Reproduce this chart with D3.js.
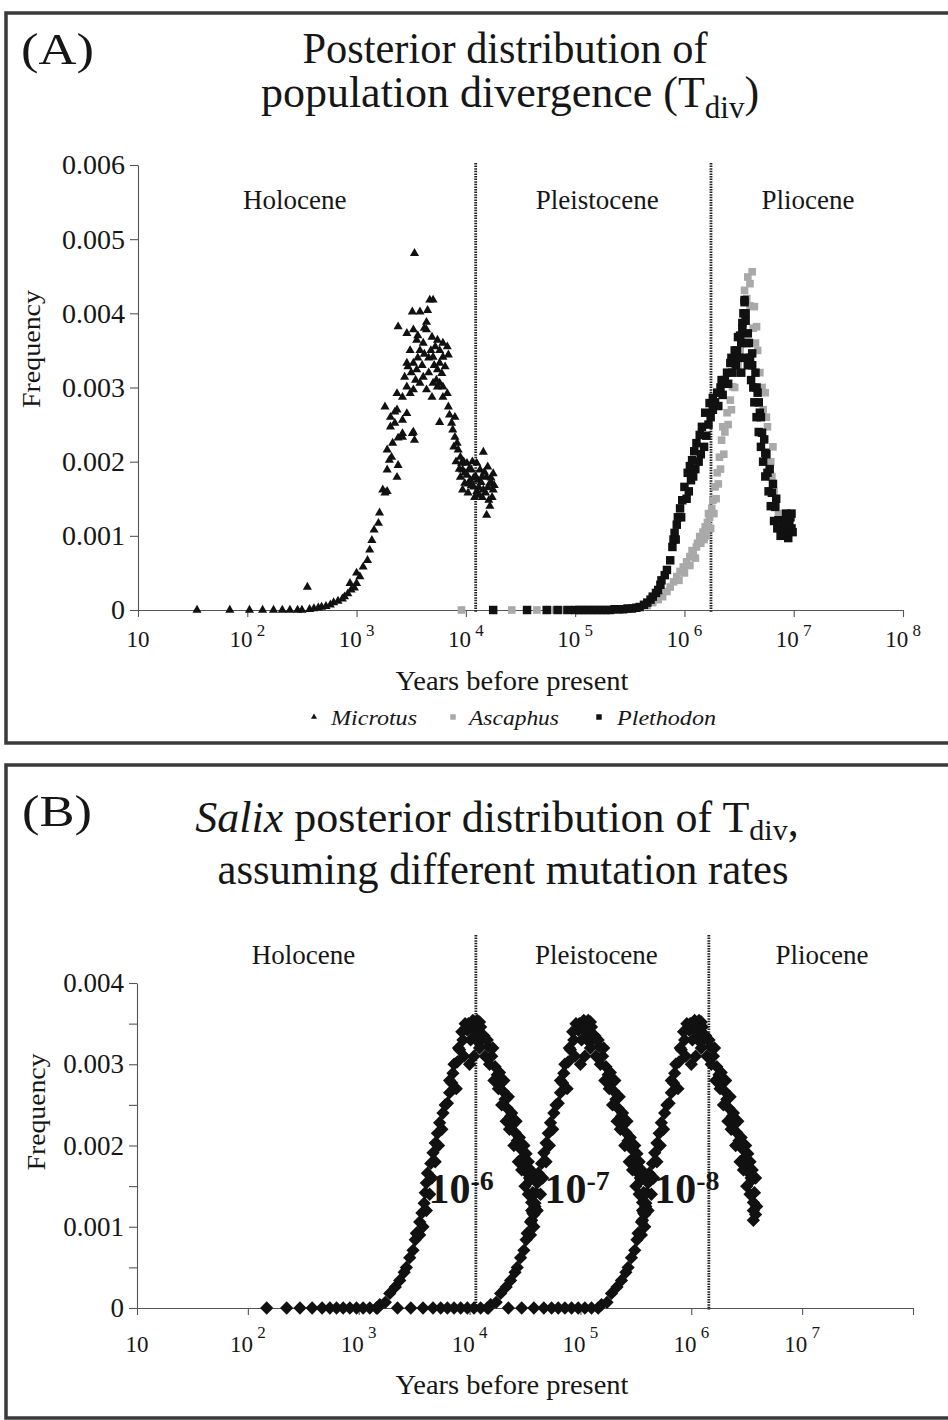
<!DOCTYPE html>
<html><head><meta charset="utf-8">
<script src="https://cdn.jsdelivr.net/npm/d3@7"></script>
<style>
body{margin:0;background:#fff}
svg{display:block}
text{font-family:"Liberation Serif","Times New Roman",serif;fill:#161616}
</style>
</head><body>
<svg id="c" width="948" height="1420"></svg>
<script>
// ---------------- DATA ----------------
// points are [log10(years before present), frequency]
const microtusPts = [[1.54,0],[1.84,0],[2.02,0],[2.14,0],[2.24,0],[2.32,0],[2.39,0],[2.46,0],[2.50,0],[2.55,0.00031],
[2.57,0.00001],[2.61,0.00002],[2.65,0.00003],[2.68,0.00004],[2.72,0.00005],[2.76,0.00007],[2.79,0.0001],[2.83,0.00012],[2.87,0.00015],[2.89,0.00018],[2.92,0.00022],[2.94,0.00036],[2.95,0.00027],[2.98,0.0003],[3.00,0.00036],[3.00,0.0005],[3.03,0.00045],[3.06,0.00058],[3.10,0.00067],[3.12,0.00081],[3.14,0.00094],[3.16,0.00108],[3.20,0.00117],[3.21,0.00131],[3.26,0.00158],[3.24,0.00162],[3.28,0.0016],[3.28,0.00189],[3.30,0.00202],[3.37,0.00179],[3.38,0.00195],[3.28,0.00216],[3.32,0.00206],[3.33,0.00225],[3.38,0.00232],[3.42,0.00233],[3.52,0.0024],[3.53,0.00229],[3.35,0.00252],[3.42,0.00256],[3.37,0.0027],[3.46,0.00265],[3.26,0.00274],[3.31,0.00247],[3.42,0.00287],[3.49,0.00292],[3.52,0.00297],[3.46,0.00301],[3.44,0.00314],[3.47,0.00328],[3.46,0.00333],[3.52,0.00333],[3.55,0.00324],[3.58,0.00306],[3.61,0.00314],[3.64,0.00297],[3.69,0.00287],[3.70,0.00306],[3.38,0.00382],[3.46,0.00373],[3.52,0.00378],[3.51,0.00402],[3.58,0.00402],[3.55,0.00364],[3.58,0.0035],[3.61,0.0036],[3.64,0.00378],[3.64,0.00388],[3.67,0.00418],[3.70,0.00418],[3.65,0.00404],[3.69,0.00368],[3.72,0.00355],[3.74,0.00364],[3.76,0.0035],[3.79,0.0036],[3.83,0.00355],[3.70,0.00341],[3.76,0.00333],[3.79,0.00341],[3.84,0.00344],[3.74,0.00324],[3.78,0.00319],[3.81,0.00328],[3.76,0.00306],[3.79,0.00301],[3.74,0.00301],[3.79,0.00287],[3.83,0.00292],[3.76,0.00253],[3.84,0.00274],[3.85,0.00263],[3.87,0.00252],[3.88,0.00243],[3.90,0.00233],[3.92,0.00225],[3.93,0.00216],[3.95,0.00206],[3.96,0.00198],[3.97,0.00189],[4.01,0.00182],[3.99,0.00171],[4.04,0.00175],[3.95,0.00179],[3.97,0.00162],[4.02,0.00158],[4.07,0.00166],[4.10,0.00198],[4.13,0.00189],[4.16,0.00213],[4.11,0.00175],[4.16,0.00162],[4.19,0.00179],[4.20,0.00193],[4.22,0.00171],[4.24,0.00152],[4.25,0.00184],[4.25,0.00162],[4.19,0.00128],[4.15,0.00152],[4.08,0.00152],[4.05,0.00189],[4.01,0.00198],[3.90,0.0026],[3.53,0.00481],[3.37,0.00292],[3.42,0.00238],[3.51,0.00238],[3.35,0.00267],[3.31,0.0026],
[4.05,0.00168],[4.09,0.0018],[4.12,0.00165],[4.14,0.00172],[4.18,0.00158],[4.21,0.00148],[4.23,0.00178],[4.17,0.00186],[4.07,0.00178],[4.02,0.0017],[3.99,0.00185],[4.12,0.00155],[4.26,0.00168],[4.22,0.0014],[4.10,0.0016],
[3.56,0.0034],[3.60,0.0033],[3.62,0.00345],[3.66,0.0034],[3.68,0.0035],[3.66,0.0032],[3.71,0.0033],[3.73,0.0031],[3.62,0.0038],[3.56,0.0037],[3.49,0.0035],[3.54,0.0031],[3.50,0.0032],
[3.89,0.0022],[3.91,0.0020],[3.94,0.0019],[3.98,0.0020],[4.03,0.0019],[4.06,0.0020],[4.15,0.0018],[4.20,0.00165],[4.24,0.0017]];

const ascaphusPts = [[3.96,0],[4.42,0],[4.65,0],[4.79,0],[4.90,0],[5.02,0],[5.14,0],[5.26,0],[5.38,0.00001],[5.50,0.00002],[5.60,0.00004],[5.66,0.00006],[5.71,0.0001],[5.76,0.00014],[5.80,0.00018],[5.84,0.00025],[5.87,0.00031],[5.90,0.00038],[5.93,0.00045],[5.96,0.00052],[5.99,0.00058],[6.02,0.00065],[6.05,0.00072],[6.08,0.00078],[6.11,0.00085],[6.14,0.00099],[6.17,0.00105],[6.19,0.00112],[6.21,0.00118],[6.23,0.00125],[6.25,0.00137],[6.26,0.00148],[6.28,0.00166],[6.30,0.00185],[6.32,0.00206],[6.34,0.00229],[6.35,0.00247],[6.39,0.00266],[6.42,0.00283],[6.44,0.00301],[6.48,0.0032],[6.51,0.0035],[6.53,0.00373],[6.54,0.004],[6.55,0.00431],[6.58,0.00449],[6.62,0.00456],[6.60,0.0044],[6.64,0.00409],[6.66,0.00382],[6.67,0.0035],[6.69,0.0032],[6.74,0.00293],[6.76,0.00247],[6.81,0.0022],[6.79,0.002],[6.80,0.0018],[6.82,0.0016],[6.84,0.0014],[6.86,0.0013],[6.90,0.0012],[6.94,0.0011],
[6.05,0.0006],[6.10,0.0007],[6.15,0.0009],[6.20,0.001],[6.24,0.0011],[6.22,0.0013],[6.27,0.0013],[6.29,0.0015],[6.31,0.0017],[6.33,0.0019],[6.36,0.0021],[6.37,0.0024],[6.40,0.0025],[6.43,0.0027],[6.46,0.003],[6.49,0.0033],[6.52,0.0036],[6.57,0.0042],[6.60,0.0041],[6.63,0.0038],[6.65,0.0036],[6.71,0.003],[6.72,0.0027],[6.75,0.0026],
[5.95,0.0004],[6.00,0.0005],[6.07,0.0008],[6.12,0.0009],[6.18,0.00095]];

const plethodonPts = [[4.25,0],[4.56,0],[4.74,0],[4.84,0],[4.93,0],[5.00,0],[5.04,0],[5.08,0],[5.12,0],[5.16,0],[5.20,0],[5.24,0],[5.28,0],[5.32,0],[5.36,0.00001],[5.40,0.00001],[5.44,0.00001],[5.48,0.00002],[5.52,0.00002],[5.56,0.00003],[5.59,0.00004],[5.63,0.00007],[5.66,0.0001],[5.69,0.00014],[5.71,0.00018],[5.74,0.00023],[5.76,0.00027],[5.78,0.00034],[5.79,0.0004],[5.82,0.00047],[5.84,0.00054],[5.87,0.00067],[5.89,0.00085],[5.90,0.00095],[5.91,0.00104],[5.93,0.00115],[5.94,0.00125],[5.96,0.00137],[5.98,0.00148],[6.00,0.00166],[6.03,0.00185],[6.05,0.00194],[6.07,0.00202],[6.09,0.00214],[6.11,0.00225],[6.14,0.00236],[6.16,0.00247],[6.19,0.00266],[6.23,0.00279],[6.26,0.00286],[6.30,0.00293],[6.34,0.0031],[6.39,0.0032],[6.42,0.00333],[6.46,0.0035],[6.49,0.00368],[6.53,0.00387],[6.55,0.00418],[6.54,0.004],[6.58,0.00373],[6.62,0.00346],[6.65,0.0032],[6.67,0.00293],[6.69,0.00266],[6.71,0.00239],[6.74,0.00212],[6.76,0.00185],[6.80,0.00158],[6.83,0.00139],[6.86,0.00121],[6.90,0.00108],[6.94,0.00104],[6.95,0.00097],[6.98,0.0011],
[5.92,0.00095],[5.97,0.00125],[6.02,0.0015],[6.06,0.00175],[6.10,0.0019],[6.15,0.0021],[6.20,0.00235],[6.22,0.0025],[6.26,0.0027],[6.31,0.00275],[6.35,0.0029],[6.40,0.00305],[6.44,0.0032],[6.47,0.0033],[6.50,0.0034],[6.52,0.0036],[6.56,0.0039],[6.57,0.0036],[6.55,0.0034],[6.52,0.0032],[6.60,0.0034],[6.61,0.0031],[6.58,0.0033],[6.63,0.003],[6.64,0.0028],[6.66,0.0026],[6.68,0.0024],[6.70,0.0022],[6.72,0.002],[6.74,0.0018],[6.77,0.0016],[6.79,0.0014],[6.82,0.0012],[6.85,0.0011],[6.88,0.001],[6.92,0.0012],[6.96,0.0012],[6.97,0.00125],[6.93,0.0013],[6.99,0.00105],[6.55,0.00415],[6.56,0.004],[6.53,0.0038],
[6.04,0.0016],[6.08,0.0018],[6.13,0.0020],[6.18,0.0022],[6.24,0.0026],[6.28,0.0028],[6.33,0.0030],[6.37,0.0031],[6.43,0.0034],[6.48,0.0035],[6.51,0.0037],[6.59,0.0036],[6.62,0.0033],[6.66,0.0030],[6.68,0.0028],[6.70,0.0026],[6.73,0.0023],[6.75,0.0021],[6.78,0.0019],[6.81,0.0017],[6.84,0.0015],[6.91,0.0011],[6.95,0.00115],[6.98,0.0013]];

// Salix: posterior of Tdiv expressed in years at a mutation rate of 1e-6
const salixPtsAtMu6 = [[2.17,0],[2.35,0],[2.47,0],[2.58,0],[2.67,0],[2.74,0],[2.80,0],[2.86,0],[2.92,0],[2.98,0],[3.04,0],[3.10,0],[3.16,0],
[3.19,0.00004],[3.24,0.00007],[3.28,0.00018],[3.33,0.00026],[3.37,0.00034],[3.41,0.00044],[3.43,0.0005],[3.46,0.00062],[3.49,0.00071],[3.51,0.00084],[3.52,0.00092],[3.55,0.00106],[3.57,0.00117],[3.59,0.00129],[3.60,0.00142],[3.61,0.00154],[3.62,0.00166],[3.65,0.00178],[3.67,0.00191],[3.69,0.00203],[3.71,0.00215],[3.73,0.00228],[3.76,0.0024],[3.80,0.00252],[3.82,0.00265],[3.84,0.00277],[3.85,0.00289],[3.89,0.00303],[3.91,0.00318],[3.94,0.0033],[3.98,0.00342],[4.00,0.00348],[4.03,0.00354],[4.07,0.00354],[4.09,0.00352],
[4.10,0.00346],[4.13,0.00335],[4.17,0.00322],[4.20,0.0031],[4.23,0.00297],[4.25,0.00287],[4.28,0.00277],[4.30,0.00267],[4.32,0.00257],[4.34,0.00246],[4.37,0.00236],[4.39,0.00226],[4.41,0.00216],[4.43,0.00206],[4.46,0.00196],[4.48,0.00185],[4.50,0.00175],[4.52,0.00166],[4.55,0.00158],[4.57,0.00142],[4.59,0.00125],[4.56,0.00108],[4.58,0.00115],
[3.55,0.0009],[3.58,0.001],[3.61,0.0012],[3.64,0.0014],[3.66,0.0016],[3.69,0.0018],[3.72,0.002],[3.75,0.0022],[3.78,0.0025],[3.82,0.0028],[3.86,0.003],[3.90,0.0032],[3.93,0.0034],[3.96,0.0035],[4.01,0.0033],[4.04,0.0031],[4.06,0.0033],[4.08,0.0034],[4.11,0.0033],[4.14,0.0031],[4.18,0.003],[4.22,0.0028],[4.26,0.0027],[4.29,0.0025],[4.33,0.0023],[4.36,0.0022],[4.40,0.002],[4.44,0.0018],[4.47,0.0017],[4.50,0.0015],[4.53,0.0014],[4.56,0.0013],[4.58,0.0016],[4.55,0.0017],[4.53,0.0018],[4.56,0.0012],[4.51,0.0019],[3.88,0.0027],[3.95,0.0031],[4.00,0.003],[3.99,0.0035],[4.02,0.0035],[4.05,0.0034],[4.09,0.0032],
[4.16,0.0033],[4.21,0.0032],[4.27,0.0029],[4.31,0.0028],[4.35,0.0026],[4.38,0.0024],[4.42,0.0023],[4.45,0.0021],[4.49,0.0020],[4.54,0.0016]];
const mutationRates = [1e-6, 1e-7, 1e-8];
const rateExponents = ["-6", "-7", "-8"];

const epochNames = ["Holocene", "Pleistocene", "Pliocene"];
const epochBoundsA = [12300, 1750000];
const epochBoundsB = [11400, 1440000];
const yTicksA = [0, 0.001, 0.002, 0.003, 0.004, 0.005, 0.006];
const yTicksB = [0, 0.001, 0.002, 0.003, 0.004];
const yMinorB = [0.0005, 0.0015, 0.0025, 0.0035];
const xTickExpA = [1, 2, 3, 4, 5, 6, 7, 8];
const xTickExpB = [1, 2, 3, 4, 5, 6, 7, 8];
const xLabelExpB = [1, 2, 3, 4, 5, 6, 7];
const legendNames = ["Microtus", "Ascaphus", "Plethodon"];

// ---------------- DRAWING ----------------
const svg = d3.select("#c");
const INK = "#161616";
const toYears = L => Math.pow(10, L);

// panel frames
svg.append("rect").attr("x", 6).attr("y", 13).attr("width", 990).attr("height", 730)
  .attr("fill", "none").attr("stroke", "#3a3a3a").attr("stroke-width", 3.5);
svg.append("rect").attr("x", 6).attr("y", 765).attr("width", 990).attr("height", 653)
  .attr("fill", "none").attr("stroke", "#3a3a3a").attr("stroke-width", 3.5);

function styleAxis(g) {
  g.selectAll("path.domain").attr("stroke", "#555").attr("stroke-width", 1.1);
  g.selectAll(".tick line").attr("stroke", "#555").attr("stroke-width", 1.1);
  g.attr("font-family", null);
}

function xTickLabels(g, x, exps, baseY, supDy, fs, sfs) {
  exps.forEach(e => {
    const t = g.append("text").attr("x", x(Math.pow(10, e))).attr("y", baseY)
      .attr("text-anchor", "middle").attr("font-size", fs);
    t.append("tspan").text("10");
    if (e > 1) t.append("tspan").attr("dy", supDy).attr("font-size", sfs).text(" " + e);
  });
}

function vDotted(x, y0, y1) {
  svg.append("line").attr("x1", x).attr("x2", x).attr("y1", y0).attr("y2", y1)
    .attr("stroke", "#222").attr("stroke-width", 2.8).attr("stroke-dasharray", "1.5,1.1");
}

// ===== Panel A =====
const xA = d3.scaleLog().domain([10, 1e8]).range([138, 903]);
const yA = d3.scaleLinear().domain([0, 0.006]).range([610, 165]);

svg.append("text").attr("x", 21).attr("y", 64).attr("font-size", 44).attr("textLength", 73)
  .attr("lengthAdjust", "spacingAndGlyphs").text("(A)");
svg.append("text").attr("x", 505).attr("y", 63).attr("text-anchor", "middle").attr("font-size", 44)
  .attr("textLength", 405).attr("lengthAdjust", "spacingAndGlyphs").text("Posterior distribution of");
{
  const t = svg.append("text").attr("x", 510).attr("y", 107).attr("text-anchor", "middle").attr("font-size", 44);
  t.append("tspan").text("population divergence (T");
  t.append("tspan").attr("dy", 11).attr("font-size", 31).text("div");
  t.append("tspan").attr("dy", -11).text(")");
}

const gyA = svg.append("g").attr("transform", "translate(138,0)")
  .call(d3.axisLeft(yA).tickValues(yTicksA).tickSize(8).tickSizeOuter(0).tickPadding(5)
    .tickFormat(d => d === 0 ? "0" : d.toFixed(3)));
styleAxis(gyA);
gyA.selectAll("text").attr("font-size", 28).attr("fill", INK);

const gxA = svg.append("g").attr("transform", "translate(0,610)")
  .call(d3.axisBottom(xA).tickValues(xTickExpA.map(e => Math.pow(10, e))).tickSize(7).tickSizeOuter(0).tickFormat(""));
styleAxis(gxA);
xTickLabels(svg.append("g"), xA, xTickExpA, 647, -11, 23, 17);

svg.append("text").attr("transform", "translate(40,349) rotate(-90)").attr("text-anchor", "middle")
  .attr("font-size", 26).attr("textLength", 118).attr("lengthAdjust", "spacingAndGlyphs").text("Frequency");
svg.append("text").attr("x", 512).attr("y", 690).attr("text-anchor", "middle").attr("font-size", 27)
  .attr("textLength", 233).attr("lengthAdjust", "spacingAndGlyphs").text("Years before present");

epochBoundsA.forEach(b => vDotted(xA(b), 163, 612));
{
  const edges = [xA.range()[0], xA(epochBoundsA[0]), xA(epochBoundsA[1]), xA.range()[1]];
  const nudge = [-12, 4, 1];
  epochNames.forEach((n, i) => svg.append("text").attr("x", (edges[i] + edges[i + 1]) / 2 + nudge[i])
    .attr("y", 209).attr("text-anchor", "middle").attr("font-size", 27).text(n));
}

const triSym = d3.symbol().type(d3.symbolTriangle).size(36);
const sqSym = d3.symbol().type(d3.symbolSquare).size(72);
const sqSymG = d3.symbol().type(d3.symbolSquare).size(58);

svg.append("g").selectAll("path").data(microtusPts).join("path")
  .attr("d", triSym).attr("fill", "#111")
  .attr("transform", d => `translate(${xA(toYears(d[0]))},${yA(d[1])})`);
svg.append("g").selectAll("path").data(ascaphusPts).join("path")
  .attr("d", sqSymG).attr("fill", "#a9a9a9")
  .attr("transform", d => `translate(${xA(toYears(d[0]))},${yA(d[1])})`);
svg.append("g").selectAll("path").data(plethodonPts).join("path")
  .attr("d", sqSym).attr("fill", "#111")
  .attr("transform", d => `translate(${xA(toYears(d[0]))},${yA(d[1])})`);

// legend
{
  const mx = [314, 453, 599], tx = [331, 469, 617], tw = [86, 90, 99];
  const syms = [d3.symbol().type(d3.symbolTriangle).size(16), d3.symbol().type(d3.symbolSquare).size(30), d3.symbol().type(d3.symbolSquare).size(30)];
  const cols = ["#111", "#a9a9a9", "#111"];
  legendNames.forEach((n, i) => {
    svg.append("path").attr("d", syms[i]).attr("fill", cols[i]).attr("transform", `translate(${mx[i]},717)`);
    svg.append("text").attr("x", tx[i]).attr("y", 725).attr("font-size", 22).attr("font-style", "italic")
      .attr("textLength", tw[i]).attr("lengthAdjust", "spacingAndGlyphs").text(n);
  });
}

// ===== Panel B =====
const xB = d3.scaleLog().domain([10, 1e8]).range([137, 913]);
const yB = d3.scaleLinear().domain([0, 0.004]).range([1308, 983]);

svg.append("text").attr("x", 22).attr("y", 826).attr("font-size", 44).attr("textLength", 70)
  .attr("lengthAdjust", "spacingAndGlyphs").text("(B)");
{
  const t = svg.append("text").attr("x", 497).attr("y", 832).attr("text-anchor", "middle").attr("font-size", 44);
  t.append("tspan").attr("font-style", "italic").text("Salix");
  t.append("tspan").text(" posterior distribution of T");
  t.append("tspan").attr("dy", 8).attr("font-size", 30).text("div");
  t.append("tspan").attr("dy", -4).text(",");
}
svg.append("text").attr("x", 503).attr("y", 884).attr("text-anchor", "middle").attr("font-size", 44)
  .attr("textLength", 571).attr("lengthAdjust", "spacingAndGlyphs").text("assuming different mutation rates");

const gyB = svg.append("g").attr("transform", "translate(137,0)")
  .call(d3.axisLeft(yB).tickValues(yTicksB.concat(yMinorB)).tickSize(8).tickSizeOuter(0).tickPadding(5)
    .tickFormat(d => yTicksB.includes(d) ? (d === 0 ? "0" : d.toFixed(3)) : ""));
styleAxis(gyB);
gyB.selectAll("text").attr("font-size", 27).attr("fill", INK);

const gxB = svg.append("g").attr("transform", "translate(0,1308)")
  .call(d3.axisBottom(xB).tickValues(xTickExpB.map(e => Math.pow(10, e))).tickSize(7).tickSizeOuter(0).tickFormat(""));
styleAxis(gxB);
xTickLabels(svg.append("g"), xB, xLabelExpB, 1352, -14, 23, 17);

svg.append("text").attr("transform", "translate(45,1112) rotate(-90)").attr("text-anchor", "middle")
  .attr("font-size", 26).attr("textLength", 117).attr("lengthAdjust", "spacingAndGlyphs").text("Frequency");
svg.append("text").attr("x", 512).attr("y", 1394).attr("text-anchor", "middle").attr("font-size", 27)
  .attr("textLength", 233).attr("lengthAdjust", "spacingAndGlyphs").text("Years before present");

epochBoundsB.forEach(b => vDotted(xB(b), 935, 1310));
{
  const edges = [xB.range()[0], xB(epochBoundsB[0]), xB(epochBoundsB[1]), xB.range()[1]];
  const nudge = [-3, 4, 11];
  epochNames.forEach((n, i) => svg.append("text").attr("x", (edges[i] + edges[i + 1]) / 2 + nudge[i])
    .attr("y", 964).attr("text-anchor", "middle").attr("font-size", 27).text(n));
}

const diaSym = d3.symbol().type(d3.symbolSquare).size(88);
mutationRates.forEach((mu, k) => {
  svg.append("g").selectAll("path").data(salixPtsAtMu6).join("path")
    .attr("d", diaSym).attr("fill", "#111")
    .attr("transform", d => `translate(${xB(toYears(d[0]) * 1e-6 / mu)},${yB(d[1])}) rotate(45)`);
});
// rate labels
{
  const labelLogAtMu6 = 3.63; // anchor of the "10" in years (at mu=1e-6)
  const shift = [0, 5, 4];
  mutationRates.forEach((mu, k) => {
    const t = svg.append("text").attr("x", xB(toYears(labelLogAtMu6) * 1e-6 / mu) + shift[k])
      .attr("y", 1203).attr("font-size", 42).attr("font-weight", "bold");
    t.append("tspan").text("10");
    t.append("tspan").attr("dy", -13).attr("font-size", 28).text(rateExponents[k]);
  });
}
</script>
</body></html>
